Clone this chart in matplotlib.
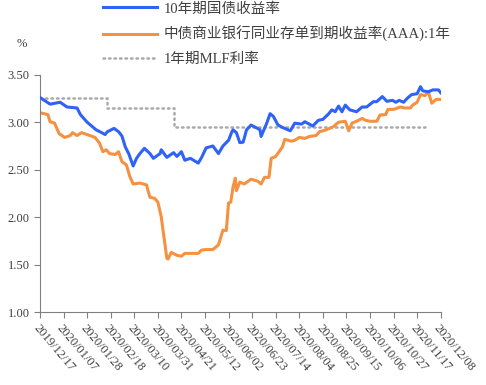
import pandas as pd
import matplotlib
matplotlib.use("Agg")
import matplotlib.pyplot as plt
import matplotlib.dates as mdates

# --- données ---
blue_dates = ["2019-12-17", "2019-12-26", "2020-01-04", "2020-01-10", "2020-01-19", "2020-01-22",
              "2020-01-28", "2020-02-05", "2020-02-10", "2020-02-13", "2020-02-15", "2020-02-21",
              "2020-02-25", "2020-02-28", "2020-03-02", "2020-03-05", "2020-03-09", "2020-03-12",
              "2020-03-15", "2020-03-19", "2020-03-24", "2020-03-27", "2020-04-02", "2020-04-03",
              "2020-04-08", "2020-04-14", "2020-04-17", "2020-04-21", "2020-04-24", "2020-04-29",
              "2020-05-06", "2020-05-09", "2020-05-13", "2020-05-19", "2020-05-24", "2020-05-28",
              "2020-06-02", "2020-06-05", "2020-06-06", "2020-06-09", "2020-06-12", "2020-06-15",
              "2020-06-18", "2020-06-22", "2020-06-27", "2020-06-30", "2020-07-01", "2020-07-06",
              "2020-07-09", "2020-07-12", "2020-07-16", "2020-07-21", "2020-07-27", "2020-07-31",
              "2020-08-06", "2020-08-09", "2020-08-16", "2020-08-21", "2020-08-25", "2020-08-30",
              "2020-09-02", "2020-09-05", "2020-09-08", "2020-09-11", "2020-09-14", "2020-09-18",
              "2020-09-24", "2020-09-29", "2020-10-03", "2020-10-09", "2020-10-12", "2020-10-17",
              "2020-10-21", "2020-10-26", "2020-10-29", "2020-11-01", "2020-11-05", "2020-11-08",
              "2020-11-12", "2020-11-17", "2020-11-20", "2020-11-22", "2020-11-27", "2020-12-01",
              "2020-12-06", "2020-12-08"]
blue_vals = [3.26, 3.19, 3.21, 3.16, 3.15, 3.08,
             3.00, 2.92, 2.89, 2.87, 2.90, 2.935,
             2.90, 2.855, 2.74, 2.67, 2.54, 2.62,
             2.67, 2.725, 2.67, 2.62, 2.67, 2.71,
             2.63, 2.68, 2.64, 2.69, 2.60, 2.62,
             2.57, 2.63, 2.73, 2.75, 2.67, 2.75,
             2.81, 2.90, 2.92, 2.89, 2.785, 2.79,
             2.92, 2.97, 2.94, 2.92, 2.85, 2.99,
             3.09, 3.06, 2.97, 2.94, 2.91, 2.99,
             2.98, 3.005, 2.96, 3.02, 3.03, 3.086,
             3.13, 3.11, 3.17, 3.11, 3.18, 3.13,
             3.11, 3.16, 3.16, 3.216, 3.216, 3.27,
             3.22, 3.23, 3.21, 3.23, 3.21, 3.25,
             3.29, 3.30, 3.374, 3.33, 3.32, 3.34,
             3.34, 3.31]

orange_dates = ["2019-12-17", "2019-12-24", "2019-12-26", "2019-12-30", "2020-01-03", "2020-01-08",
                "2020-01-13", "2020-01-15", "2020-01-19", "2020-01-23", "2020-01-28", "2020-02-04",
                "2020-02-08", "2020-02-11", "2020-02-14", "2020-02-17", "2020-02-22", "2020-02-25",
                "2020-02-28", "2020-03-03", "2020-03-06", "2020-03-09", "2020-03-15", "2020-03-21",
                "2020-03-22", "2020-03-24", "2020-03-28", "2020-03-31", "2020-04-03", "2020-04-05",
                "2020-04-08", "2020-04-09", "2020-04-12", "2020-04-17", "2020-04-21", "2020-04-24",
                "2020-04-29", "2020-05-06", "2020-05-09", "2020-05-13", "2020-05-19", "2020-05-24",
                "2020-05-28", "2020-05-31", "2020-06-02", "2020-06-04", "2020-06-06", "2020-06-08",
                "2020-06-09", "2020-06-12", "2020-06-16", "2020-06-22", "2020-06-28", "2020-07-01",
                "2020-07-04", "2020-07-08", "2020-07-10", "2020-07-14", "2020-07-17", "2020-07-20",
                "2020-07-22", "2020-07-28", "2020-07-31", "2020-08-04", "2020-08-09", "2020-08-13",
                "2020-08-19", "2020-08-22", "2020-08-28", "2020-09-03", "2020-09-08", "2020-09-14",
                "2020-09-17", "2020-09-20", "2020-09-24", "2020-09-29", "2020-10-02", "2020-10-06",
                "2020-10-12", "2020-10-15", "2020-10-20", "2020-10-22", "2020-10-27", "2020-11-02",
                "2020-11-06", "2020-11-11", "2020-11-13", "2020-11-17", "2020-11-20", "2020-11-24",
                "2020-11-27", "2020-11-30", "2020-12-04", "2020-12-08"]
orange_vals = [3.10, 3.08, 3.005, 2.99, 2.88, 2.84,
               2.86, 2.89, 2.86, 2.89, 2.87, 2.84,
               2.78, 2.69, 2.71, 2.67, 2.66, 2.69,
               2.585, 2.55, 2.43, 2.35, 2.36, 2.34,
               2.29, 2.21, 2.20, 2.16, 2.006, 1.83,
               1.57, 1.56, 1.63, 1.60, 1.59, 1.62,
               1.62, 1.62, 1.655, 1.66, 1.66, 1.71,
               1.865, 1.86, 2.15, 2.16, 2.32, 2.41,
               2.28, 2.37, 2.35, 2.40, 2.38, 2.35,
               2.42, 2.42, 2.62, 2.64, 2.69, 2.74,
               2.82, 2.80, 2.81, 2.84, 2.83, 2.85,
               2.86, 2.90, 2.92, 2.95, 3.00, 3.01,
               2.91, 2.99, 3.01, 3.04, 3.02, 3.01,
               3.01, 3.076, 3.08, 3.135, 3.135, 3.16,
               3.15, 3.15, 3.18, 3.21, 3.29, 3.28,
               3.32, 3.20, 3.24, 3.24]

mlf_dates = ["2019-12-17", "2020-02-15", "2020-04-14", "2020-11-26"]
mlf_vals = [3.25, 3.15, 2.95, 2.95]

labels = ["10年期国债收益率", "中债商业银行同业存单到期收益率(AAA):1年", "1年期MLF利率"]

fams = ["Liberation Serif", "Noto Sans CJK SC"]
plt.rcParams["font.family"] = fams

# --- graphique ---
fig = plt.figure(figsize=(4.86, 3.85), dpi=100)
ax = fig.add_axes([0.0823, 0.1888, 0.9068 - 0.0823, 0.806 - 0.1888])

ax.plot(pd.to_datetime(blue_dates), blue_vals, color="#2F62F5", lw=2.2, label=labels[0],
        solid_joinstyle="round", zorder=3)
ax.plot(pd.to_datetime(orange_dates), orange_vals, color="#F59140", lw=2.2, label=labels[1],
        solid_joinstyle="round", zorder=2)
ax.plot(pd.to_datetime(mlf_dates), mlf_vals, color="#A9A9A9", lw=1.8, linestyle=(0, (0.6, 1.6)),
        dash_capstyle="round", drawstyle="steps-post", label=labels[2], zorder=1)

ax.set_xlim(pd.Timestamp("2019-12-17"), pd.Timestamp("2020-12-08"))
ax.set_ylim(1.0, 3.5)
ax.set_yticks([1.0, 1.5, 2.0, 2.5, 3.0, 3.5])
ax.yaxis.set_major_formatter(matplotlib.ticker.FormatStrFormatter("%.2f"))

ticks = pd.date_range("2019-12-17", "2020-12-08", freq="21D")
ax.set_xticks(ticks)
ax.set_xticklabels([t.strftime("%Y/%m/%d") for t in ticks], rotation=-50,
                   ha="left", va="top", rotation_mode="anchor")

for s in ["top", "right"]:
    ax.spines[s].set_visible(False)
for s in ["left", "bottom"]:
    ax.spines[s].set_color("#808080")
ax.tick_params(axis="both", colors="#808080", length=4, labelsize=9, labelcolor="#404040")
ax.tick_params(axis="x", pad=3)

fig.text(0.045, 0.887, "%", fontsize=9, color="#404040", ha="center", va="center")

fig.legend(loc="upper left", bbox_to_anchor=(0.2, 1.01), frameon=False, fontsize=10.5,
           handlelength=3.7, handletextpad=0.45, labelspacing=0.73, borderaxespad=0,
           labelcolor="#404040")

fig.savefig("out.png", dpi=100)
